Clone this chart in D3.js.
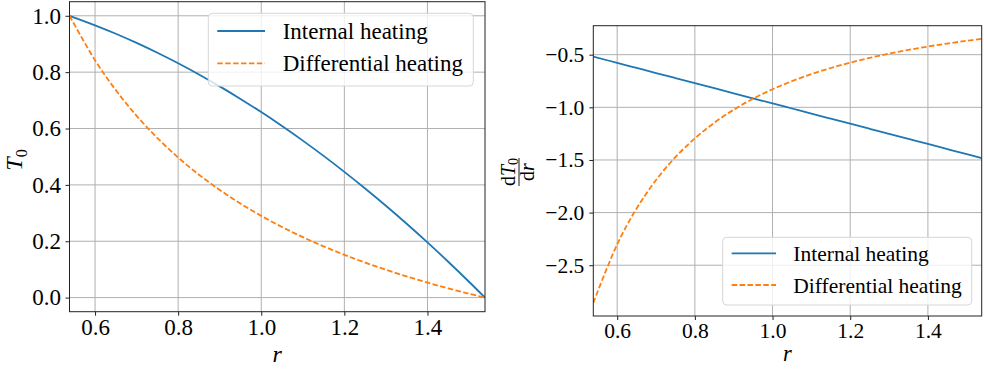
<!DOCTYPE html>
<html>
<head>
<meta charset="utf-8">
<script src="https://cdn.jsdelivr.net/npm/d3@7"></script>
<style>
  html, body { margin: 0; padding: 0; background: #fff; }
  svg { display: block; }
  svg text { font-family: "Liberation Serif", "Times New Roman", serif; fill: #000; }
</style>
</head>
<body>
<svg id="chart" width="984" height="372"></svg>
<script>
// ---- data ----
const rValues = [0.5385, 0.6, 0.65, 0.7, 0.75, 0.8, 0.85, 0.9, 0.95, 1.0, 1.05,
                 1.1, 1.15, 1.2, 1.25, 1.3, 1.35, 1.4, 1.45, 1.5, 1.5385];
const t0Internal = [1.0, 0.9663, 0.9362, 0.9037, 0.8688, 0.8315, 0.7918, 0.7496, 0.7051, 0.6582, 0.6088,
                    0.5571, 0.5029, 0.4463, 0.3873, 0.3260, 0.2622, 0.1960, 0.1273, 0.0563, 0.0];
const t0Differential = [1.0, 0.8423, 0.7361, 0.6451, 0.5662, 0.4971, 0.4362, 0.3821, 0.3336, 0.2900, 0.2505,
                        0.2147, 0.1819, 0.1519, 0.1243, 0.0988, 0.0752, 0.0533, 0.0329, 0.0138, 0.0];
const dT0Internal = [-0.5186, -0.5778, -0.6260, -0.6741, -0.7223, -0.7704, -0.8186, -0.8667, -0.9149, -0.9630, -1.0112,
                     -1.0593, -1.1075, -1.1556, -1.2038, -1.2519, -1.3001, -1.3482, -1.3964, -1.4445, -1.4816];
const dT0Differential = [-2.857, -2.3014, -1.9609, -1.6908, -1.4729, -1.2945, -1.1467, -1.0228, -0.9180, -0.8285, -0.7515,
                         -0.6847, -0.6265, -0.5753, -0.5302, -0.4902, -0.4546, -0.4227, -0.3941, -0.3682, -0.3500];
const seriesNames = ["Internal heating", "Differential heating"];
const xTicks = [0.6, 0.8, 1.0, 1.2, 1.4];
const tTicks = [0.0, 0.2, 0.4, 0.6, 0.8, 1.0];
const dTicks = [-2.5, -2.0, -1.5, -1.0, -0.5];

const BLUE = "#1f77b4", ORANGE = "#ff7f0e";
const FONT = "Liberation Serif";
const svg = d3.select("#chart");

function panel(cfg) {
  const fs = cfg.fontSize;
  const x = d3.scaleLinear().domain(d3.extent(rValues)).range([cfg.left, cfg.right]);
  const y = d3.scaleLinear().domain(cfg.yDomain).range([cfg.bottom, cfg.top]);
  const g = svg.append("g");

  // grid
  g.append("g").selectAll("line").data(xTicks).join("line")
    .attr("x1", d => x(d)).attr("x2", d => x(d))
    .attr("y1", cfg.top).attr("y2", cfg.bottom)
    .attr("stroke", "#b0b0b0").attr("stroke-width", 1);
  g.append("g").selectAll("line").data(cfg.yTicks).join("line")
    .attr("y1", d => y(d)).attr("y2", d => y(d))
    .attr("x1", cfg.left).attr("x2", cfg.right)
    .attr("stroke", "#b0b0b0").attr("stroke-width", 1);

  // lines
  const series = [
    { vals: cfg.s1, color: BLUE, dash: null },
    { vals: cfg.s2, color: ORANGE, dash: "5.5,2.4" }
  ];
  const line = d3.line().x(d => x(d[0])).y(d => y(d[1])).curve(d3.curveCatmullRom.alpha(0.5));
  const clip = "clip" + cfg.id;
  svg.append("clipPath").attr("id", clip).append("rect")
    .attr("x", cfg.left).attr("y", cfg.top)
    .attr("width", cfg.right - cfg.left).attr("height", cfg.bottom - cfg.top);
  series.forEach(s => {
    g.append("path")
      .datum(rValues.map((r, i) => [r, s.vals[i]]))
      .attr("d", line)
      .attr("fill", "none")
      .attr("stroke", s.color)
      .attr("stroke-width", 1.8)
      .attr("stroke-dasharray", s.dash)
      .attr("clip-path", `url(#${clip})`);
  });

  // axes
  const xAxis = d3.axisBottom(x).tickValues(xTicks).tickFormat(d3.format(".1f"))
    .tickSize(4).tickPadding(cfg.xPad);
  const gx = g.append("g").attr("transform", `translate(0,${cfg.bottom})`).call(xAxis);
  const yAxis = d3.axisLeft(y).tickValues(cfg.yTicks).tickFormat(d3.format(".1f"))
    .tickSize(4).tickPadding(cfg.yPad);
  const gy = g.append("g").attr("transform", `translate(${cfg.left},0)`).call(yAxis);
  [gx, gy].forEach(a => {
    a.attr("font-size", fs).attr("font-family", FONT);
    a.select(".domain").remove();
    a.selectAll(".tick line").attr("stroke", "#222").attr("stroke-width", 1);
    a.selectAll(".tick text").attr("font-size", fs).attr("font-family", FONT).attr("fill", "#000");
  });

  // frame
  g.append("rect").attr("x", cfg.left).attr("y", cfg.top)
    .attr("width", cfg.right - cfg.left).attr("height", cfg.bottom - cfg.top)
    .attr("fill", "none").attr("stroke", "#222").attr("stroke-width", 1);

  // x label
  g.append("text").attr("x", (cfg.left + cfg.right) / 2).attr("y", cfg.xLabelY)
    .attr("text-anchor", "middle").attr("font-family", FONT)
    .attr("font-size", fs + 1).attr("font-style", "italic")
    .text("r");

  // legend
  const L = cfg.legend;
  const lg = g.append("g");
  lg.append("rect").attr("x", L.x0).attr("y", L.y0)
    .attr("width", L.x1 - L.x0).attr("height", L.y1 - L.y0)
    .attr("rx", 4).attr("ry", 4)
    .attr("fill", "rgba(255,255,255,0.8)").attr("stroke", "#d6d6d6").attr("stroke-width", 1);
  series.forEach((s, i) => {
    const yy = L.rows[i];
    lg.append("line").attr("x1", L.s0).attr("x2", L.s1).attr("y1", yy).attr("y2", yy)
      .attr("stroke", s.color).attr("stroke-width", 1.8).attr("stroke-dasharray", s.dash);
    lg.append("text").attr("x", L.tx).attr("y", yy + 8)
      .attr("font-family", FONT).attr("font-size", fs).text(seriesNames[i]);
  });
  return g;
}

panel({
  id: "a", left: 69.5, right: 485, top: 1.7, bottom: 311.7,
  yDomain: [-0.05, 1.05], yTicks: tTicks, s1: t0Internal, s2: t0Differential,
  fontSize: 23, xPad: 3, yPad: 4.5, xLabelY: 362,
  legend: { x0: 208.3, x1: 473.3, y0: 13.3, y1: 86, s0: 217.3, s1: 265, tx: 282.7, rows: [31, 63.3] }
});

const dMin = d3.min(dT0Differential), dMax = d3.max(dT0Differential);
const dPadV = (dMax - dMin) * 0.05;
panel({
  id: "b", left: 593.3, right: 981.7, top: 25.7, bottom: 316,
  yDomain: [dMin - dPadV, dMax + dPadV], yTicks: dTicks, s1: dT0Internal, s2: dT0Differential,
  fontSize: 21.5, xPad: 3, yPad: 5, xLabelY: 361,
  legend: { x0: 722.7, x1: 971.7, y0: 237.3, y1: 305, s0: 731.7, s1: 776, tx: 793.3, rows: [253.3, 285] }
});

// y label left: T_0
const yl = svg.append("text").attr("transform", "translate(22,160) rotate(-90)")
  .attr("text-anchor", "middle").attr("font-family", FONT).attr("font-size", 24);
yl.append("tspan").attr("font-style", "italic").text("T");
yl.append("tspan").attr("dy", 5).attr("font-size", 16).text("0");

// y label right: dT0/dr
const fr = svg.append("g").attr("transform", "translate(519,172) rotate(-90)");
const num = fr.append("text").attr("x", 0).attr("y", -4).attr("text-anchor", "middle")
  .attr("font-family", FONT).attr("font-size", 20);
num.append("tspan").text("d");
num.append("tspan").attr("font-style", "italic").text("T");
num.append("tspan").attr("dy", 3).attr("font-size", 14).text("0");
fr.append("line").attr("x1", -14).attr("x2", 14).attr("y1", 0).attr("y2", 0)
  .attr("stroke", "#000").attr("stroke-width", 0.9);
const den = fr.append("text").attr("x", 0).attr("y", 15).attr("text-anchor", "middle")
  .attr("font-family", FONT).attr("font-size", 20);
den.append("tspan").text("d");
den.append("tspan").attr("font-style", "italic").text("r");
</script>
</body>
</html>
